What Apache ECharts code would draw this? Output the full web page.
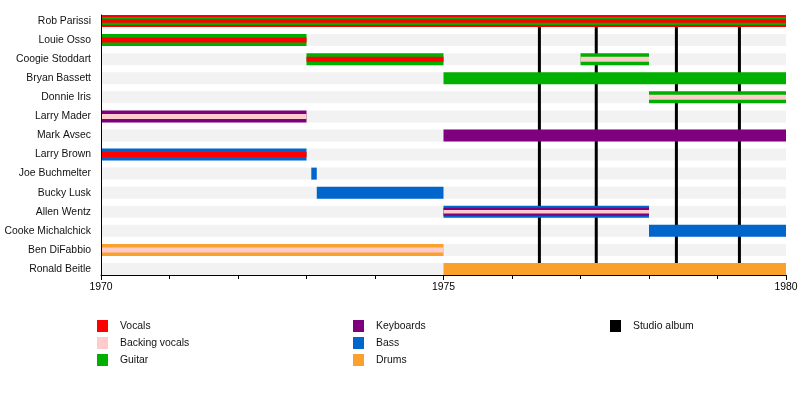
<!DOCTYPE html>
<html>
<head>
<meta charset="utf-8">
<script src="https://cdn.jsdelivr.net/npm/echarts@6/dist/echarts.min.js"></script>
<style>html,body{margin:0;padding:0;background:#fff}#c{width:800px;height:395px}</style>
</head>
<body>
<div id="c"></div>
<script>
const members = ['Rob Parissi','Louie Osso','Coogie Stoddart','Bryan Bassett','Donnie Iris','Larry Mader','Mark Avsec','Larry Brown','Joe Buchmelter','Bucky Lusk','Allen Wentz','Cooke Michalchick','Ben DiFabbio','Ronald Beitle'];
const roles = ['Vocals','Backing vocals','Guitar','Keyboards','Bass','Drums'];
const roleColors = ['#ff0000','#ffcccc','#00b000','#7f007f','#0066cc','#faa02c'];
const albumLabel = 'Studio album';
const albumYears = [1976.4, 1977.23, 1978.4, 1979.32];
const tickYears = [1970, 1975, 1980];
// member, from, till, roles (outer to inner)
const tenureMember = ['Rob Parissi','Louie Osso','Coogie Stoddart','Coogie Stoddart','Bryan Bassett','Donnie Iris','Larry Mader','Mark Avsec','Larry Brown','Joe Buchmelter','Bucky Lusk','Allen Wentz','Cooke Michalchick','Ben DiFabbio','Ronald Beitle'];
const tenureFrom = [1970, 1970, 1973, 1977, 1975, 1978, 1970, 1975, 1970, 1973.07, 1973.15, 1975, 1978, 1970, 1975];
const tenureTill = [1980, 1973, 1975, 1978, 1980, 1980, 1973, 1980, 1973, 1973.15, 1975, 1978, 1980, 1975, 1980];
const tenureRoles = [
  ['Vocals','Guitar','Vocals'],
  ['Guitar','Vocals'],
  ['Guitar','Vocals'],
  ['Guitar','Backing vocals'],
  ['Guitar'],
  ['Guitar','Backing vocals'],
  ['Keyboards','Backing vocals'],
  ['Keyboards'],
  ['Bass','Vocals'],
  ['Bass'],
  ['Bass'],
  ['Bass','Keyboards','Backing vocals'],
  ['Bass'],
  ['Drums','Backing vocals'],
  ['Drums']
];

const FONT = '"Liberation Sans", Arial, sans-serif';
const FS = 10.4;
const barData = [];
tenureMember.forEach((m, i) => {
  const rs = tenureRoles[i];
  rs.forEach((r, k) => {
    barData.push([members.indexOf(m), tenureFrom[i], tenureTill[i], k, roles.indexOf(r), rs.length]);
  });
});
const stripeData = members.map((m, i) => [i, tickYears[0], tickYears[tickYears.length - 1]]);
const albumData = albumYears.map(y => [y]);

const chart = echarts.init(document.getElementById('c'), null, {renderer: 'canvas'});
const legendSeries = roles.concat([albumLabel]).map((r, i) => ({
  name: r, type: 'bar', data: [], xAxisIndex: 0, yAxisIndex: 0,
  itemStyle: {color: i < roles.length ? roleColors[i] : '#000000'}
}));
const legendBase = {
  orient: 'vertical', icon: 'rect', itemWidth: 11, itemHeight: 12, itemGap: 5,
  selectedMode: false, top: 320, padding: 0,
  textStyle: {fontSize: FS, color: '#111', fontFamily: FONT, padding: [0, 0, 0, 7]}
};
function layerHeight(layer, count) {
  if (layer === 0) return 12;
  if (count === 2) return 5;
  return layer === count - 1 ? 3.5 : 8;
}
chart.setOption({
  animation: false,
  backgroundColor: '#ffffff',
  textStyle: {fontFamily: FONT},
  grid: [
    {left: 101, right: 14, top: 11.46, height: 267.08, containLabel: false, outerBoundsMode: 'none'},
    {left: 101, right: 14, top: 15, height: 260, containLabel: false, outerBoundsMode: 'none'}
  ],
  xAxis: [
    {gridIndex: 0, type: 'value', min: 1970, max: 1980, show: false},
    {gridIndex: 1, type: 'value', min: 1970, max: 1980, interval: 5, z: 10,
      axisLine: {show: true, lineStyle: {color: '#000', width: 1}},
      axisTick: {show: true, length: 5, lineStyle: {color: '#000'}},
      minorTick: {show: true, splitNumber: 5, length: 4, lineStyle: {color: '#000'}},
      splitLine: {show: false},
      axisLabel: {color: '#000', fontSize: FS, fontFamily: FONT, margin: 7,
        formatter: v => String(v)}}
  ],
  yAxis: [
    {gridIndex: 0, type: 'category', data: members, inverse: true,
      axisLine: {show: false}, axisTick: {show: false}, splitLine: {show: false},
      axisLabel: {color: '#111', fontSize: FS, fontFamily: FONT, margin: 10}},
    {gridIndex: 1, type: 'value', min: 0, max: 1, z: 10,
      axisLine: {show: true, lineStyle: {color: '#000', width: 1}},
      axisTick: {show: false}, axisLabel: {show: false}, splitLine: {show: false}}
  ],
  legend: [
    Object.assign({}, legendBase, {left: 97, data: roles.slice(0, 3)}),
    Object.assign({}, legendBase, {left: 353, data: roles.slice(3, 6)}),
    Object.assign({}, legendBase, {left: 610, data: [albumLabel]})
  ],
  series: [
    {
      type: 'custom', xAxisIndex: 0, yAxisIndex: 0, z: 1, silent: true,
      data: stripeData, encode: {x: [1, 2], y: 0},
      renderItem: (params, api) => {
        const a = api.coord([api.value(1), api.value(0)]);
        const b = api.coord([api.value(2), api.value(0)]);
        return {type: 'rect', shape: {x: a[0], y: a[1] - 6, width: b[0] - a[0], height: 12},
          style: {fill: '#f2f2f2'}};
      }
    },
    {
      type: 'custom', xAxisIndex: 0, yAxisIndex: 0, z: 2, silent: true,
      data: albumData, encode: {x: 0},
      renderItem: (params, api) => {
        const top = api.coord([api.value(0), 0]);
        const bot = api.coord([api.value(0), members.length - 1]);
        return {type: 'line', shape: {x1: top[0], y1: top[1] - 6, x2: top[0], y2: bot[1] + 6},
          style: {stroke: '#000', lineWidth: 3}};
      }
    },
    {
      type: 'custom', xAxisIndex: 0, yAxisIndex: 0, z: 3, silent: true,
      data: barData, encode: {x: [1, 2], y: 0},
      renderItem: (params, api) => {
        const h = layerHeight(api.value(3), api.value(5));
        const a = api.coord([api.value(1), api.value(0)]);
        const b = api.coord([api.value(2), api.value(0)]);
        return {type: 'rect', shape: {x: a[0], y: a[1] - h / 2, width: b[0] - a[0], height: h},
          style: {fill: roleColors[api.value(4)]}};
      }
    }
  ].concat(legendSeries)
});
</script>
</body>
</html>
